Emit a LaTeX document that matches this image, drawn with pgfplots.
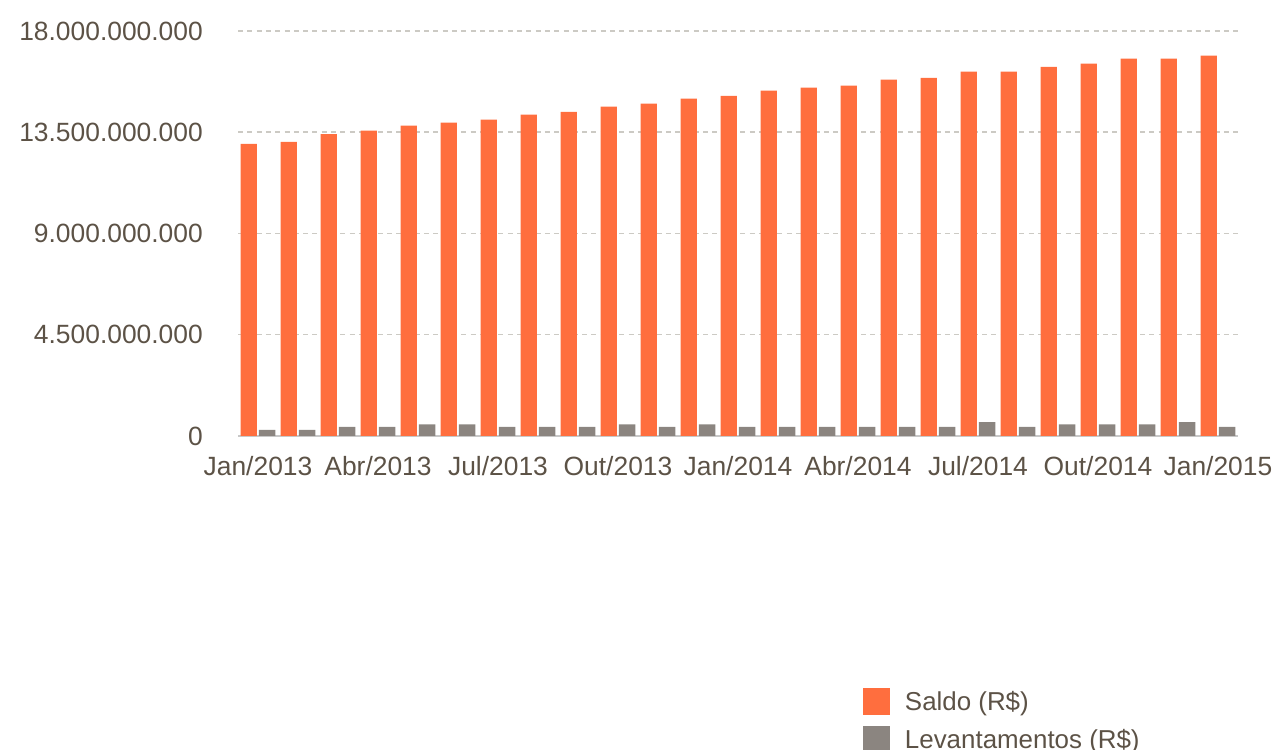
\documentclass[border=0pt]{standalone}
\usepackage{pgfplots}
\pgfplotsset{compat=1.18}
\usepackage{fontspec}
\setmainfont{Liberation Sans}
\definecolor{saldo}{RGB}{255,110,62}
\definecolor{lev}{RGB}{139,133,128}
\definecolor{txt}{RGB}{92,82,70}
\definecolor{grid}{RGB}{204,202,196}
\definecolor{axisc}{RGB}{200,200,200}
\begin{document}
\begin{tikzpicture}
\path[use as bounding box] (0,0) rectangle (1278bp,750bp);
\begin{axis}[
  at={(238bp,314bp)}, anchor=south west,
  scale only axis, width=1000bp, height=405bp,
  xmin=-0.5, xmax=24.5, ymin=0, ymax=18000000000,
  axis x line*=bottom, axis y line*=left,
  y axis line style={draw=none},
  x axis line style={draw=axisc, line width=1.5bp},
  major tick length=0pt,
  scaled y ticks=false,
  ytick={0,4500000000,9000000000,13500000000,18000000000},
  yticklabels={0,4.500.000.000,9.000.000.000,13.500.000.000,18.000.000.000},
  xtick={0,3,6,9,12,15,18,21,24},
  xticklabels={Jan/2013,Abr/2013,Jul/2013,Out/2013,Jan/2014,Abr/2014,Jul/2014,Out/2014,Jan/2015},
  tick label style={font=\fontsize{26.5}{30}\selectfont, text=txt, inner sep=0pt},
  yticklabel style={anchor=east, xshift=-35bp},
  xticklabel style={anchor=north, yshift=-20bp},
  ymajorgrids,
  grid style={draw=grid, line width=1.5bp, dash pattern=on 5bp off 4.3bp},
  legend style={at={(0.625,-0.622)}, anchor=north west, draw=none, fill=none,
    inner sep=0pt, outer sep=0pt, row sep=11bp,
    nodes={inner sep=0pt, text=txt, font=\fontsize{26}{30}\selectfont},
    /tikz/every odd column/.append style={column sep=15bp}},
  legend cell align=left,
  legend image code/.code={\fill[#1,draw=none] (0bp,-13.5bp) rectangle (27bp,13.5bp);},
]
\addplot[ybar, bar width=0.41, bar shift=-0.23, fill=saldo, draw=none] coordinates {
(0,12980000000) (1,13070000000) (2,13420000000) (3,13570000000) (4,13790000000)
(5,13930000000) (6,14060000000) (7,14280000000) (8,14410000000) (9,14640000000)
(10,14770000000) (11,14990000000) (12,15120000000) (13,15350000000) (14,15480000000)
(15,15570000000) (16,15840000000) (17,15920000000) (18,16190000000) (19,16190000000)
(20,16410000000) (21,16550000000) (22,16770000000) (23,16770000000) (24,16900000000)
};
\addlegendentry{Saldo (R\$)}
\addplot[ybar, bar width=0.41, bar shift=0.23, fill=lev, draw=none] coordinates {
(0,270000000) (1,270000000) (2,400000000) (3,400000000) (4,520000000)
(5,520000000) (6,400000000) (7,400000000) (8,400000000) (9,520000000)
(10,400000000) (11,520000000) (12,400000000) (13,400000000) (14,400000000)
(15,400000000) (16,400000000) (17,400000000) (18,620000000) (19,400000000)
(20,520000000) (21,520000000) (22,520000000) (23,620000000) (24,400000000)
};
\addlegendentry{Levantamentos (R\$)}
\end{axis}
\end{tikzpicture}
\end{document}
